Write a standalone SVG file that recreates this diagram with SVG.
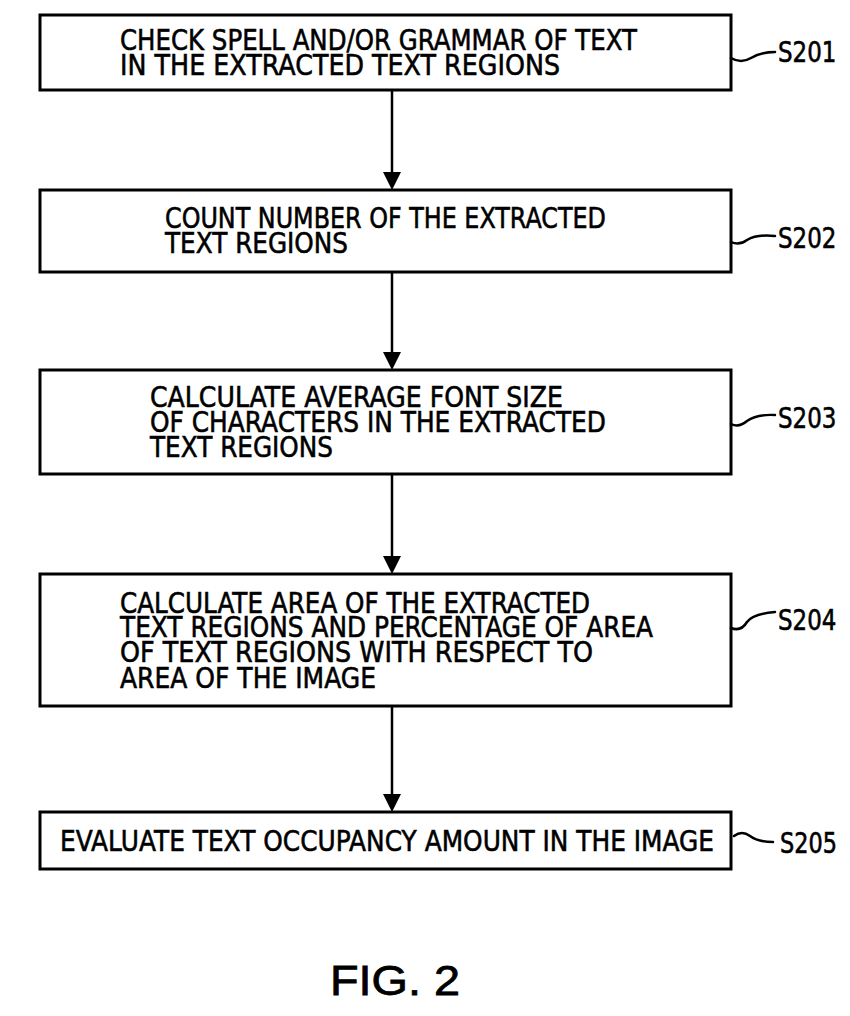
<svg xmlns="http://www.w3.org/2000/svg" width="850" height="1016" viewBox="0 0 850 1016">
<style>
.box{fill:#fff;stroke:#000;stroke-width:3}
.t{font-family:"DejaVu Sans","Liberation Sans",sans-serif;font-size:28px;fill:#000;stroke:#000;stroke-width:0.6}
.lbl{font-family:"DejaVu Sans","Liberation Sans",sans-serif;font-size:28px;fill:#000;stroke:#000;stroke-width:0.6}
.lead{fill:none;stroke:#000;stroke-width:2.5;stroke-linecap:round}
.conn{stroke:#000;stroke-width:2.5;fill:none}
.ah{fill:#000}
.fig{font-family:"Liberation Sans",Arial,sans-serif;font-size:43px;fill:#000;stroke:#000;stroke-width:0.8}
</style>
<rect width="850" height="1016" fill="#fff"/>
<g id="connectors">
<line class="conn" x1="392" y1="90" x2="392" y2="176"/>
<polygon class="ah" points="383,172 401,172 392,190"/>
<line class="conn" x1="392" y1="272" x2="392" y2="356"/>
<polygon class="ah" points="383,352 401,352 392,370"/>
<line class="conn" x1="392" y1="474" x2="392" y2="560"/>
<polygon class="ah" points="383,556 401,556 392,574"/>
<line class="conn" x1="392" y1="706" x2="392" y2="798"/>
<polygon class="ah" points="383,794 401,794 392,812"/>
</g>
<g id="S201">
<rect class="box" x="40" y="15" width="691" height="75"/>
<text class="t" transform="scale(0.83,1)"><tspan x="144.6" y="50" textLength="622.9" lengthAdjust="spacingAndGlyphs">CHECK SPELL AND/OR GRAMMAR OF TEXT</tspan><tspan x="144.6" y="75" textLength="530.1" lengthAdjust="spacingAndGlyphs">IN THE EXTRACTED TEXT REGIONS</tspan></text>
<path class="lead" d="M731,58 q10,6 20,0 q10,-6 24,-6"/>
<text class="lbl" transform="translate(778,62) scale(0.82,1)">S201</text>
</g>
<g id="S202">
<rect class="box" x="40" y="190" width="691" height="82"/>
<text class="t" transform="scale(0.83,1)"><tspan x="198.8" y="228" textLength="531.3" lengthAdjust="spacingAndGlyphs">COUNT NUMBER OF THE EXTRACTED</tspan><tspan x="198.8" y="253" textLength="220.5" lengthAdjust="spacingAndGlyphs">TEXT REGIONS</tspan></text>
<path class="lead" d="M731,242 q8,4 16,-2 q10,-6 28,-4"/>
<text class="lbl" transform="translate(778,248) scale(0.82,1)">S202</text>
</g>
<g id="S203">
<rect class="box" x="40" y="370" width="691" height="104"/>
<text class="t" transform="scale(0.83,1)"><tspan x="180.7" y="407" textLength="497.6" lengthAdjust="spacingAndGlyphs">CALCULATE AVERAGE FONT SIZE</tspan><tspan x="180.7" y="432" textLength="549.4" lengthAdjust="spacingAndGlyphs">OF CHARACTERS IN THE EXTRACTED</tspan><tspan x="180.7" y="457" textLength="220.5" lengthAdjust="spacingAndGlyphs">TEXT REGIONS</tspan></text>
<path class="lead" d="M731,424 q8,4 16,-3 q10,-7 28,-6"/>
<text class="lbl" transform="translate(778,428) scale(0.82,1)">S203</text>
</g>
<g id="S204">
<rect class="box" x="40" y="574" width="691" height="132"/>
<text class="t" transform="scale(0.83,1)"><tspan x="144.6" y="613" textLength="566.3" lengthAdjust="spacingAndGlyphs">CALCULATE AREA OF THE EXTRACTED</tspan><tspan x="144.6" y="637" textLength="642.2" lengthAdjust="spacingAndGlyphs">TEXT REGIONS AND PERCENTAGE OF AREA</tspan><tspan x="144.6" y="662" textLength="569.9" lengthAdjust="spacingAndGlyphs">OF TEXT REGIONS WITH RESPECT TO</tspan><tspan x="144.6" y="688" textLength="308.4" lengthAdjust="spacingAndGlyphs">AREA OF THE IMAGE</tspan></text>
<path class="lead" d="M731,628 q10,4 16,-6 q6,-8 28,-10"/>
<text class="lbl" transform="translate(778,630) scale(0.82,1)">S204</text>
</g>
<g id="S205">
<rect class="box" x="40" y="812" width="691" height="57"/>
<text class="t" transform="scale(0.83,1)" x="72.3" y="851" textLength="788" lengthAdjust="spacingAndGlyphs">EVALUATE TEXT OCCUPANCY AMOUNT IN THE IMAGE</text>
<path class="lead" d="M734,836 q8,-6 16,0 q8,6 23,6"/>
<text class="lbl" transform="translate(780,853) scale(0.8,1)">S205</text>
</g>
<text class="fig" x="330" y="995" textLength="130" lengthAdjust="spacingAndGlyphs">FIG. 2</text>
</svg>
